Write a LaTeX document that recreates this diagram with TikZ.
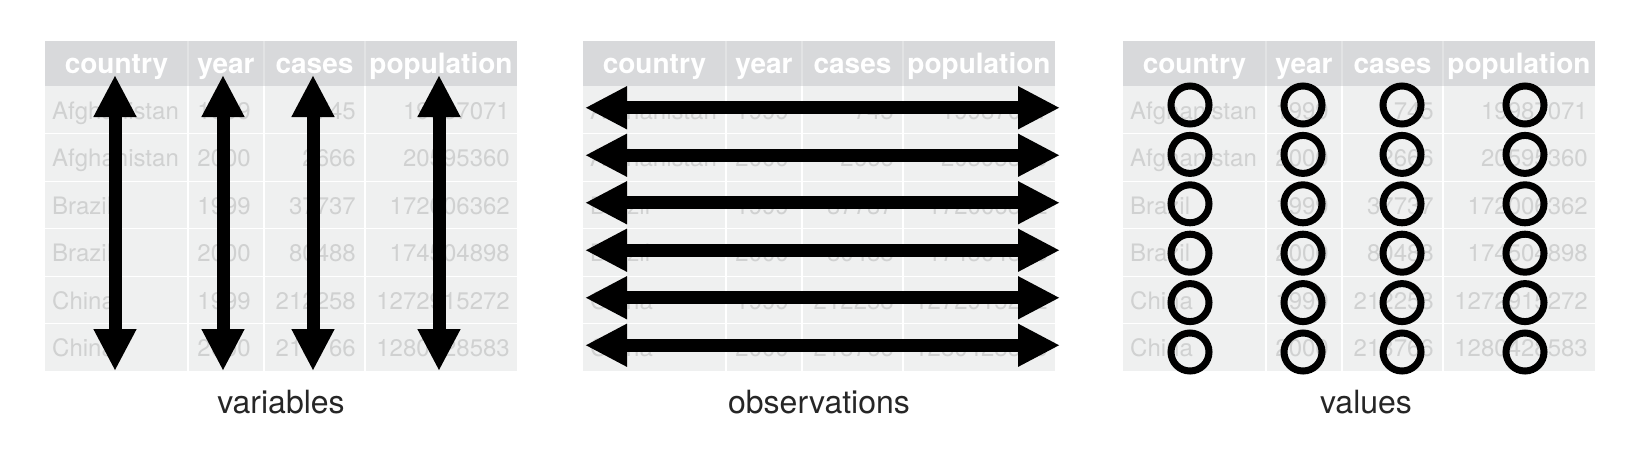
\documentclass[tikz,border=0pt]{standalone}
\usepackage{fontspec}
\setmainfont{TeX Gyre Heros}
\usetikzlibrary{arrows.meta}
\definecolor{headgray}{HTML}{D8D9DB}
\definecolor{headline}{HTML}{E2E3E4}
\definecolor{bodygray}{HTML}{EFF0F0}
\definecolor{textgray}{HTML}{D0D1D1}
\definecolor{labelgray}{HTML}{262626}
\tikzset{
  headtext/.style={text=white,font=\fontsize{28}{30}\selectfont\bfseries,anchor=base,inner sep=0pt},
  celltext/.style={text=textgray,font=\fontsize{24}{26}\selectfont,anchor=base,inner sep=0pt},
  caption/.style={text=labelgray,font=\fontsize{32}{34}\selectfont,anchor=base,inner sep=0pt},
  bigarrow/.style={line width=13pt,{Triangle[width=40pt,length=42pt]}-{Triangle[width=40pt,length=42pt]}},
  valring/.style={circle,draw,line width=7pt,minimum size=38pt,inner sep=0pt},
}
\begin{document}
\begin{tikzpicture}[x=1pt,y=-1pt]
  \useasboundingbox (0,0) rectangle (1626,456);
  % the three tables
  \foreach \tab/\ox in {var/45,obs/583,val/1123}{
    \coordinate (\tab-nw) at (\ox,41);
    \coordinate (\tab-se) at (\ox+472,371);
    \fill[bodygray] (\tab-nw) rectangle (\tab-se);
    \fill[headgray] (\tab-nw) rectangle (\ox+472,86);
    \foreach \i in {1,...,5}
      \draw[white,line width=1pt] (\ox,86+47.5*\i) -- (\ox+472,86+47.5*\i);
    \foreach \cx in {143,219,320}{
      \draw[headline,line width=1.5pt] (\ox+\cx,41) -- (\ox+\cx,86);
      \draw[white,line width=1.5pt] (\ox+\cx,86) -- (\ox+\cx,371);
    }
    \node[headtext] (\tab-h1) at (\ox+71.5,73) {country};
    \node[headtext] (\tab-h2) at (\ox+181,73) {year};
    \node[headtext] (\tab-h3) at (\ox+269.5,73) {cases};
    \node[headtext] (\tab-h4) at (\ox+396,73) {population};
    \foreach \r/\cn/\yr/\cs/\pp in {1/Afghanistan/1999/745/19987071,
        2/Afghanistan/2000/2666/20595360, 3/Brazil/1999/37737/172006362,
        4/Brazil/2000/80488/174504898, 5/China/1999/212258/1272915272,
        6/China/2000/213766/1280428583}{
      \node[celltext,anchor=base west] (\tab-\r-c) at (\ox+7,47.5*\r+71.75) {\cn};
      \node[celltext,anchor=base east] (\tab-\r-y) at (\ox+206,47.5*\r+71.75) {\yr};
      \node[celltext,anchor=base east] (\tab-\r-k) at (\ox+311,47.5*\r+71.75) {\cs};
      \node[celltext,anchor=base east] (\tab-\r-p) at (\ox+465,47.5*\r+71.75) {\pp};
    }
  }
  % variables
  \foreach \j/\cx in {1/115,2/223,3/313,4/439}{
    \coordinate (var-top\j) at (\cx,75);
    \coordinate (var-bot\j) at (\cx,371);
    \draw[bigarrow] (var-top\j) -- (var-bot\j);
  }
  % observations
  \foreach \r in {1,...,6}{
    \coordinate (obs-left\r) at (585,47.5*\r+60.25);
    \coordinate (obs-right\r) at (1060,47.5*\r+60.25);
    \draw[bigarrow] (obs-left\r) -- (obs-right\r);
  }
  % values
  \foreach \j/\cx in {1/1190,2/1303,3/1402,4/1525}
    \foreach \r in {1,...,6}
      \node[valring] (val-\j-\r) at (\cx,55.6+49.4*\r) {};
  \node[caption] (var-label) at (281,413) {variables};
  \node[caption] (obs-label) at (819,413) {observations};
  \node[caption] (val-label) at (1366,413) {values};
\end{tikzpicture}
\end{document}
